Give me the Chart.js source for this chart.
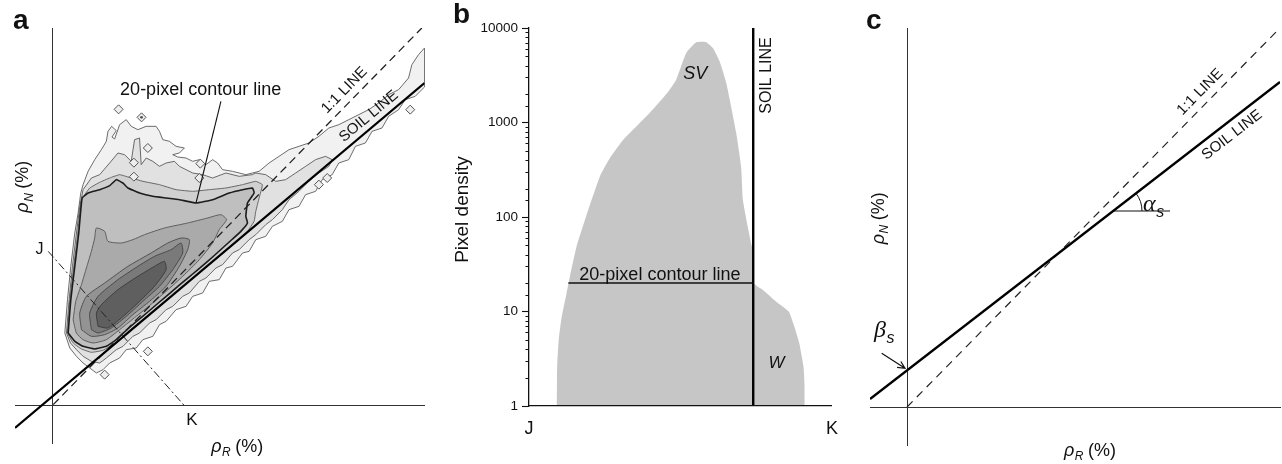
<!DOCTYPE html>
<html>
<head>
<meta charset="utf-8">
<title>Soil line</title>
<script src="https://cdn.jsdelivr.net/npm/chart.js@4.4.1/dist/chart.umd.min.js"></script>
<style>
  body { margin: 0; background: #fff; }
  #wrap { position: relative; width: 1282px; height: 464px; overflow: hidden; }
  canvas { position: absolute; top: 0; }
  .tag { position: absolute; font: bold 28px/28px 'Liberation Sans', Arial, sans-serif; color: #111; }
</style>
</head>
<body>
<div id="wrap">
  <canvas id="panelA" width="430" height="464" style="left:0"></canvas>
  <canvas id="panelB" width="410" height="464" style="left:440px"></canvas>
  <canvas id="panelC" width="422" height="464" style="left:860px"></canvas>
  <div class="tag" style="left:13px;top:6px">a</div>
  <div class="tag" style="left:453px;top:0">b</div>
  <div class="tag" style="left:866px;top:6px">c</div>
</div>
<script>
// ---- panel a: pixel density contours in red / NIR space (no tick units) ----
const levelA = [[3.7,21.8],[4.5,31.8],[5.5,41.8],[6.7,51.8],[7.7,57.8],[8.5,63.8],[9.2,66.3],[10.7,70.3],[12.7,73.8],[14.7,76.8],[16.2,79.3],[16.7,82.3],[17.8,83.8],[19.2,82.5],[17.9,80.6],[18.7,80.0],[20.2,84.3],[22.2,85.8],[23.7,83.8],[25.7,82.8],[28.2,83.8],[31.2,83.8],[32.2,82.3],[33.2,79.8],[35.2,79.3],[37.2,77.8],[39.7,77.3],[38.2,75.8],[36.2,75.3],[37.7,74.6],[40.2,74.3],[42.2,73.3],[44.2,73.8],[46.2,72.3],[48.2,73.8],[49.7,72.8],[51.2,70.8],[54.2,70.3],[58.2,69.3],[62.2,70.3],[65.2,72.8],[68.2,74.8],[71.2,76.8],[74.2,77.8],[77.2,78.8],[80.2,80.8],[83.2,83.3],[86.2,84.3],[89.2,85.8],[92.2,87.3],[95.2,88.8],[98.2,90.8],[101.2,93.3],[104.2,94.8],[107.2,98.3],[108.2,102.3],[110.2,105.3],[112,107.3],
  [112,95.6],[109.2,92.8],[106.2,91.8],[104.2,88.8],[101.2,86.8],[99.2,83.3],[96.2,82.3],[94.2,78.8],[91.2,77.8],[89.2,73.8],[86.2,72.8],[84.2,69.3],[81.2,67.8],[79.2,64.3],[76.2,63.3],[74.2,59.8],[71.2,58.8],[69.2,55.3],[66.2,53.8],[64.2,50.8],[61.2,49.8],[59.2,46.3],[57.2,45.8],[54.2,41.8],[52.2,41.3],[50.2,37.8],[47.2,37.3],[45.2,33.8],[42.2,32.8],[40.2,29.8],[37.2,28.8],[34.2,25.3],[32.2,24.3],[30.2,20.8],[27.2,19.8],[25.2,17.3],[22.2,16.8],[20.2,14.3],[17.2,12.8],[15.2,10.8],[13.2,9.8],[11.2,11.3],[9.2,12.8],[7.2,14.8],[5.2,17.3]];
const levelB = [[4.2,21.8],[5.0,31.8],[6.0,41.8],[7.2,51.8],[8.2,59.8],[9.2,64.8],[11.7,68.3],[14.2,69.3],[17.2,72.8],[19.7,75.8],[21.7,75.3],[23.7,73.3],[24.7,79.8],[26.2,80.3],[26.7,72.3],[28.2,74.3],[30.2,73.3],[32.2,71.8],[34.2,72.8],[36.7,73.3],[38.2,71.8],[40.2,70.8],[42.2,69.8],[45.2,69.3],[48.2,68.3],[52.2,69.8],[56.2,68.8],[60.2,69.3],[61.2,69.8],[64.2,69.3],[67.2,67.3],[70.2,67.8],[73.2,69.8],[76.2,71.8],[79.2,73.8],[82.2,74.8],[84.2,73.8],[83.2,71.8],[80.2,69.8],[77.2,67.3],[74.2,64.3],[71.2,61.8],[69.2,58.8],[66.2,55.8],[64.2,54.3],[61.2,51.3],[59.2,49.8],[56.2,46.8],[54.2,45.8],[51.2,42.3],[49.2,41.3],[46.2,38.3],[44.2,37.3],[41.2,33.8],[39.2,32.8],[36.2,29.8],[34.2,28.8],[31.2,25.8],[29.2,24.8],[26.2,21.8],[24.2,20.8],[21.2,17.8],[19.2,16.8],[16.2,14.3],[14.2,12.8],[11.7,13.3],[9.2,14.8],[7.2,16.8],[5.4,18.8]];
const levelB2 = [[4.5,21.8],[5.2,31.8],[6.4,41.8],[7.6,51.8],[8.5,60.5],[9.7,63.3],[11.2,65.3],[14.2,67.0],[17.2,68.3],[20.2,69.3],[23.7,68.3],[27.2,67.3],[32.2,66.3],[37.2,64.8],[42.2,64.3],[47.2,64.8],[52.2,65.3],[57.2,66.3],[61.2,67.3],[63.2,66.3],[62.2,62.3],[61.2,58.3],[60.7,55.3],[58.7,52.3],[55.2,49.0],[51.2,45.6],[47.2,42.3],[43.2,39.0],[39.2,35.8],[35.2,32.4],[31.2,29.2],[27.2,25.9],[23.2,22.6],[19.2,19.0],[15.2,16.6],[11.7,16.0],[8.7,17.0],[6.2,18.8]];
// 20-pixel contour
const levelC = [[4.7,21.8],[5.5,31.8],[6.7,41.8],[7.9,51.8],[8.9,62.3],[10.7,63.8],[14.2,64.8],[17.2,66.0],[19.2,67.8],[21.2,66.8],[22.7,65.3],[26.2,63.8],[30.2,62.8],[34.2,62.3],[38.2,61.8],[43.2,60.8],[48.2,61.8],[53.2,63.8],[57.2,64.8],[60.2,65.3],[60.7,63.8],[58.7,60.8],[58.2,56.8],[58.7,54.8],[56.7,52.3],[54.2,50.0],[51.2,47.3],[48.2,44.6],[45.2,42.0],[42.2,39.5],[38.7,36.6],[35.2,33.6],[32.2,31.1],[28.7,28.1],[25.2,25.2],[22.2,22.6],[19.2,19.8],[16.2,17.8],[12.7,17.0],[9.2,17.8],[6.7,19.3]];
const levelD = [[6.2,25.8],[7.0,31.3],[8.7,36.3],[10.2,41.3],[11.7,46.3],[12.7,50.3],[13.2,53.3],[15.7,52.3],[16.7,49.3],[20.7,48.8],[24.2,49.8],[27.7,51.3],[33.7,53.3],[40.7,54.8],[46.7,56.3],[50.7,57.3],[52.4,55.8],[50.2,52.8],[48.2,48.8],[44.2,43.8],[39.2,38.8],[34.2,34.3],[29.2,30.0],[24.2,26.0],[20.2,22.8],[16.2,19.8],[12.2,18.8],[9.2,19.8],[7.2,21.8]];
const levelE = [[8.7,22.8],[8.2,27.8],[10.2,32.8],[15.7,36.8],[22.7,41.8],[29.7,45.8],[34.7,48.8],[38.7,50.3],[41.2,49.8],[40.7,46.8],[38.2,41.8],[34.2,35.8],[29.2,31.3],[24.2,27.3],[19.7,23.3],[15.7,21.3],[11.7,20.8]];
const levelF = [[11.7,22.8],[11.2,27.8],[13.7,32.8],[19.7,37.8],[25.7,41.8],[30.7,44.8],[35.7,46.8],[38.7,48.8],[39.2,45.8],[36.2,40.8],[32.2,35.8],[27.2,31.3],[22.2,26.8],[17.7,23.3],[13.7,21.8]];
const levelG = [[13.7,23.8],[13.2,27.8],[14.7,30.3],[19.7,34.8],[25.7,38.8],[30.7,41.8],[33.7,43.3],[34.2,40.8],[30.7,35.8],[25.7,30.8],[20.7,26.3],[16.7,23.3]];
const islandsA = [[19.9,88.9],[26.8,86.5],[24.5,72.9],[24.5,68.7],[44.5,72.6],[44.2,68.3],[28.7,77.3],[28.7,16.3],[15.7,9.3],[82.7,68.3],[107.7,88.8],[80.2,66.3]];
const islandCore = [[26.8,86.5]];
const soilLineA = [[-11.3,-6.7],[112,96.8]];
const oneToOneA = [[0.2,0.3],[111.2,113.3]];
const transectJK = [[-1.3,46.3],[39.7,0]];
const pointerA = [[50.7,91.3],[43.2,60.8]];

// ---- panel b: pixel density along the J-K transect ----
const transectPos = [9.1,9.3,9.8,10.8,12.4,13.5,15.7,19.0,23.4,26.7,31.1,36.0,39.8,44.2,46.4,48.6,51.9,55.2,58.3,60.7,62.9,65.1,66.7,68.4,70.0,70.6,72.2,73.4,73.9,74.1,77.2,81.6,85.7,87.6,89.2,90.6,91.0,91.0];
const pixelDensity = [1,2.6,5.0,8.8,15.6,23.4,48.7,105,269,420,656,947,1259,1815,2223,2840,5435,7050,7110,6140,4440,2620,1480,772,343,152,79,51,45,20,16.9,12.7,10,6.9,4.6,2.6,1.6,1];
const densityTicks = [1, 10, 100, 1000, 10000];
const endTicks = [0, 100];
const endLabels = ['J', 'K'];
const soilPosB = 74;
const contourLevel = 20;
const contourStart = 13.0;

// ---- panel c: soil line parameters ----
const soilLineC = [[-11.1,2.4],[111.9,97.5]];
const oneToOneC = [[0,0],[111.9,113.7]];
const alphaBase = [[61.8,58.8],[78.9,58.8]];
const betaArrow = [[-7.6,16.1],[-0.6,11.6]];

Chart.defaults.font.family = "'Liberation Sans', Arial, sans-serif";
Chart.defaults.color = '#111';

const SANS = "'Liberation Sans', Arial, sans-serif";
const SERIF = "'Liberation Serif', 'Times New Roman', serif";
const xy = (pts) => pts.map(([x, y]) => ({ x, y }));

function line(pts, color, width, dash, order) {
  return { data: xy(pts), showLine: true, borderColor: color, borderWidth: width,
           borderDash: dash || [], pointRadius: 0, fill: false, order: order };
}
function area(pts, fillColor, edge, width, order, tension) {
  return { data: xy(pts.concat([pts[0]])), showLine: true, fill: 'shape',
           backgroundColor: fillColor, borderColor: edge, borderWidth: width,
           pointRadius: 0, tension: tension, order: order };
}

// text drawn at data coordinates, with optional subscript and tail
function makeLabels(items) {
  return {
    id: 'labels',
    afterDatasetsDraw(chart) {
      const { ctx } = chart;
      const sx = chart.scales.x, sy = chart.scales.y;
      items.forEach((it) => {
        const size = it.size || 16;
        const mainFont = `${it.style || ''} ${size}px ${it.family || SANS}`;
        const subFont = `italic ${Math.round(size * 0.68)}px ${SANS}`;
        const tailFont = `${size}px ${SANS}`;
        ctx.save();
        ctx.translate(sx.getPixelForValue(it.x), sy.getPixelForValue(it.y));
        ctx.rotate((it.rotate || 0) * Math.PI / 180);
        ctx.fillStyle = '#111';
        ctx.textBaseline = 'middle';
        ctx.textAlign = 'left';
        ctx.font = mainFont; const w1 = ctx.measureText(it.text).width;
        ctx.font = subFont; const w2 = it.sub ? ctx.measureText(it.sub).width : 0;
        ctx.font = tailFont; const w3 = it.tail ? ctx.measureText(it.tail).width : 0;
        const x0 = -(w1 + w2 + w3) / 2;
        ctx.font = mainFont; ctx.fillText(it.text, x0, 0);
        if (it.sub) { ctx.font = subFont; ctx.fillText(it.sub, x0 + w1 + 0.5, size * 0.32); }
        if (it.tail) { ctx.font = tailFont; ctx.fillText(it.tail, x0 + w1 + w2, 0); }
        ctx.restore();
      });
    }
  };
}

function originAxes(xmin, xmax, ymin, ymax) {
  const axis = (min, max, pos) => ({
    type: 'linear', min: min, max: max, position: pos,
    ticks: { display: false },
    grid: { drawOnChartArea: false, drawTicks: false },
    border: { display: true, color: '#333', width: 1 }
  });
  return { x: axis(xmin, xmax, { y: 0 }), y: axis(ymin, ymax, { x: 0 }) };
}

function baseOptions(padding, scales) {
  return {
    responsive: false, animation: false, events: [],
    layout: { padding: padding },
    scales: scales,
    plugins: { legend: { display: false }, tooltip: { enabled: false } }
  };
}

// ---------------- panel a ----------------
new Chart(document.getElementById('panelA'), {
  type: 'scatter',
  data: {
    datasets: [
      area(levelA, '#f1f1f1', '#5c5c5c', 0.9, 21, 0),
      area(levelB, '#e1e1e1', '#5a5a5a', 0.9, 20, 0),
      area(levelB2, '#d0d0d0', '#5a5a5a', 0.9, 19, 0.1),
      area(levelC, '#bfbfbf', '#1c1c1c', 1.6, 18, 0.1),
      area(levelD, '#aaaaaa', '#555555', 0.9, 17, 0.2),
      area(levelE, '#939393', '#4a4a4a', 0.9, 16, 0.2),
      area(levelF, '#7a7a7a', '#444444', 0.9, 15, 0.2),
      area(levelG, '#5f5f5f', '#3a3a3a', 0.9, 14, 0.2),
      { data: xy(islandsA), pointStyle: 'rectRot', pointRadius: 4.5, backgroundColor: '#eeeeee',
        borderColor: '#555555', borderWidth: 1, order: 10 },
      { data: xy(islandCore), pointRadius: 1.4, backgroundColor: '#555', borderWidth: 0, order: 9 },
      line(transectJK, '#222', 1, [8, 3, 2, 3], 4),
      line(oneToOneA, '#222', 1.3, [8, 5], 3),
      line(soilLineA, '#000', 2.2, null, 2),
      line(pointerA, '#111', 1.1, null, 1)
    ]
  },
  options: baseOptions({ left: 15, right: 4, top: 28, bottom: 21 }, originAxes(-11.3, 112, -11.2, 113.3)),
  plugins: [makeLabels([
    { x: 44.6, y: 94.8, text: '20-pixel contour line', size: 18 },
    { x: 87.9, y: 94.6, text: '1:1 LINE', size: 15, rotate: -45.5 },
    { x: 95.2, y: 86.8, text: 'SOIL LINE', size: 15, rotate: -40 },
    { x: -3.9, y: 46.7, text: 'J', size: 16 },
    { x: 42.0, y: -4.5, text: 'K', size: 17 },
    { x: 55.6, y: -12.4, text: 'ρ', sub: 'R', tail: ' (%)', size: 18, style: 'italic' },
    { x: -8.75, y: 65.7, text: 'ρ', sub: 'N', tail: ' (%)', size: 18, style: 'italic', rotate: -90 }
  ])]
});

// ---------------- panel b ----------------
const isDecade = (v) => densityTicks.some((d) => Math.abs(d - v) < 1e-6 * d);

const minorTicks = {
  id: 'minorTicks',
  afterDraw(chart) {
    const s = chart.scales.y, ctx = chart.ctx;
    ctx.save();
    ctx.strokeStyle = '#111';
    ctx.lineWidth = 1;
    ctx.beginPath();
    s.ticks.forEach((t) => {
      if (!isDecade(t.value)) {
        const py = Math.round(s.getPixelForValue(t.value)) + 0.5;
        ctx.moveTo(s.right - 3.5, py);
        ctx.lineTo(s.right, py);
      }
    });
    ctx.stroke();
    ctx.restore();
  }
};

new Chart(document.getElementById('panelB'), {
  type: 'scatter',
  data: {
    datasets: [
      { data: transectPos.map((x, i) => ({ x: x, y: pixelDensity[i] })), showLine: true, fill: 'start',
        backgroundColor: '#c6c6c6', borderWidth: 0, pointRadius: 0, tension: 0.15, order: 3 },
      { data: [{ x: soilPosB, y: 1 }, { x: soilPosB, y: 10000 }], showLine: true,
        borderColor: '#000', borderWidth: 2.4, pointRadius: 0, order: 1 },
      { data: [{ x: contourStart, y: contourLevel }, { x: soilPosB, y: contourLevel }], showLine: true,
        borderColor: '#111', borderWidth: 1.4, pointRadius: 0, order: 2 }
    ]
  },
  options: baseOptions({ left: 0, right: 17, top: 28, bottom: 0 }, {
    x: {
      type: 'linear', min: 0, max: 100,
      afterBuildTicks: (s) => { s.ticks = endTicks.map((v) => ({ value: v })); },
      afterFit: (s) => { s.height = 58; },
      ticks: { autoSkip: false, maxRotation: 0, padding: 12, font: { size: 18 },
               callback: (v) => endLabels[endTicks.indexOf(v)] },
      grid: { display: false, drawTicks: false },
      border: { display: true, color: '#111', width: 1.3, z: 1 }
    },
    y: {
      type: 'logarithmic', min: 1, max: 10000,
      afterFit: (s) => { s.width = 89; },
      ticks: { autoSkip: false, padding: 4, font: { size: 13.5 },
               callback: (v) => (isDecade(v) ? String(Math.round(v)) : '') },
      grid: { drawOnChartArea: false, tickLength: 7, tickWidth: 1.1,
              tickColor: (c) => (c.tick && isDecade(c.tick.value) ? '#111' : 'rgba(0,0,0,0)') },
      border: { display: true, color: '#111', width: 1.3, z: 1 }
    }
  }),
  plugins: [minorTicks, makeLabels([
    { x: 54.9, y: 3260, text: 'SV', size: 18, style: 'italic' },
    { x: 81.7, y: 2.83, text: 'W', size: 17, style: 'italic' },
    { x: 43.2, y: 24.5, text: '20-pixel contour line', size: 18 },
    { x: 78.5, y: 3140, text: 'SOIL LINE', size: 16, rotate: -90 },
    { x: -21.7, y: 120, text: 'Pixel density', size: 19, rotate: -90 }
  ])]
});

// ---------------- panel c ----------------
const angleMarks = {
  id: 'angleMarks',
  afterDatasetsDraw(chart) {
    const { ctx } = chart;
    const sx = chart.scales.x, sy = chart.scales.y;
    const P = ([a, b]) => [sx.getPixelForValue(a), sy.getPixelForValue(b)];
    const [cx, cy] = P(alphaBase[0]);
    const [x0, y0] = P(soilLineC[0]);
    const [x1, y1] = P(soilLineC[1]);
    const ang = Math.atan2(y1 - y0, x1 - x0);
    ctx.save();
    ctx.strokeStyle = '#111';
    ctx.lineWidth = 1;
    ctx.beginPath();
    ctx.arc(cx, cy, 29, ang, 0);
    ctx.stroke();
    const [ax, ay] = P(betaArrow[0]);
    const [bx, by] = P(betaArrow[1]);
    const t = Math.atan2(by - ay, bx - ax);
    ctx.lineWidth = 1.2;
    ctx.beginPath();
    ctx.moveTo(ax, ay);
    ctx.lineTo(bx, by);
    ctx.moveTo(bx - 8 * Math.cos(t - 0.45), by - 8 * Math.sin(t - 0.45));
    ctx.lineTo(bx, by);
    ctx.lineTo(bx - 8 * Math.cos(t + 0.45), by - 8 * Math.sin(t + 0.45));
    ctx.stroke();
    ctx.restore();
  }
};

new Chart(document.getElementById('panelC'), {
  type: 'scatter',
  data: {
    datasets: [
      line(oneToOneC, '#222', 1.2, [8, 6], 3),
      line(soilLineC, '#000', 2.4, null, 1),
      line(alphaBase, '#111', 1.1, null, 2)
    ]
  },
  options: baseOptions({ left: 10, right: 2, top: 28, bottom: 19 }, originAxes(-11.1, 111.9, -11.4, 113.7)),
  plugins: [angleMarks, makeLabels([
    { x: 87.9, y: 94.5, text: '1:1 LINE', size: 15, rotate: -45.5 },
    { x: 97.5, y: 81.6, text: 'SOIL LINE', size: 15, rotate: -37.7 },
    { x: 73.9, y: 60.6, text: 'α', sub: 's', size: 24, style: 'italic', family: SERIF },
    { x: -6.9, y: 22.8, text: 'β', sub: 's', size: 24, style: 'italic', family: SERIF },
    { x: 54.9, y: -13.2, text: 'ρ', sub: 'R', tail: ' (%)', size: 18, style: 'italic' },
    { x: -8.4, y: 56.6, text: 'ρ', sub: 'N', tail: ' (%)', size: 18, style: 'italic', rotate: -90 }
  ])]
});
</script>
</body>
</html>
